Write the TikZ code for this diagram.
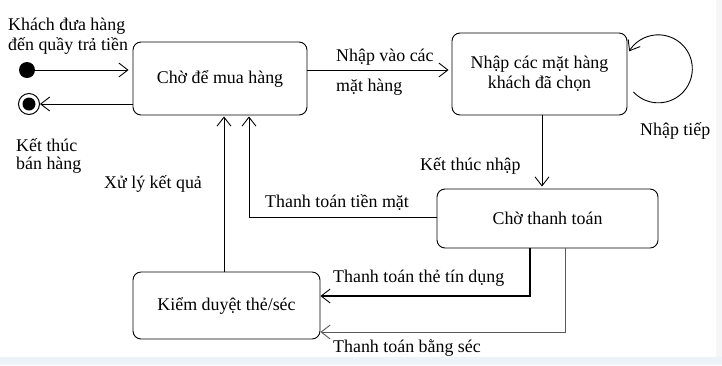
\documentclass[tikz,border=0pt]{standalone}
\usepackage{fontspec}
\setmainfont{Liberation Serif}
\usetikzlibrary{arrows.meta}
\definecolor{edgehaze}{RGB}{244,246,248}
\definecolor{bandhaze}{RGB}{238,243,249}
\definecolor{lightline}{RGB}{90,90,90}
\begin{document}
\begin{tikzpicture}[x=1pt,y=1pt,
  font=\fontsize{17.9}{20}\selectfont,
  state/.style={draw, rounded corners=8pt, line width=0.9pt, inner sep=0pt, align=center},
  flow/.style={line width=0.9pt, -{Straight Barb[length=9pt,width=14pt,line width=0.9pt]}},
  lbl/.style={inner sep=0pt, anchor=base west}]
% canvas
\useasboundingbox (0,0) rectangle (722,-365);
\fill[white] (0,0) rectangle (722,-365);
\fill[edgehaze] (716,0) rectangle (722,-365);
\fill[bandhaze] (0,-357) rectangle (722,-365);

% states
\node[state, minimum width=174pt, minimum height=73pt] (wait) at (220,-78.5) {Chờ để mua hàng};
\node[state, minimum width=175pt, minimum height=82pt] (enter) at (539.5,-74) {Nhập các mặt hàng\\khách đã chọn};
\node[state, minimum width=221pt, minimum height=59pt] (pay) at (547.5,-218.5) {Chờ thanh toán};
\node[state, minimum width=187pt, minimum height=67pt] (check) at (226.5,-305.5) {Kiểm duyệt thẻ/séc};

% initial and final pseudo-states
\node[circle, fill, minimum size=16pt, inner sep=0pt] (start) at (27,-70) {};
\node[circle, draw, line width=1pt, minimum size=21pt, inner sep=0pt] (stop) at (29,-104) {};
\node[circle, fill, minimum size=13pt, inner sep=0pt] (stopdot) at (stop) {};

% transitions
\draw[flow, shorten >=4pt] (start) -- (start -| wait.west);
\draw[flow] (wait.west |- stop) -- (stop);
\draw[flow, shorten >=3pt] ([yshift=8.5pt]wait.east) -- ([yshift=8.5pt]wait.east -| enter.west);
\draw[flow, shorten >=2pt] ([xshift=2.5pt]enter.south) -- ([xshift=2.5pt]enter.south |- pay.north);
\draw[flow] ([shift={(6pt,-18pt)}]enter.east) arc[start angle=-137, end angle=149, radius=34pt];
\draw[flow, shorten >=1pt] ([yshift=1.5pt]pay.west) -| ([xshift=29pt]wait.south);
\draw[flow, shorten >=1pt] ([xshift=-2.5pt]check.north) -- ([xshift=-2.5pt]check.north |- wait.south);
\draw[line width=2.4pt, -{Straight Barb[length=9pt,width=14pt,line width=0.9pt]}]
  ([xshift=-17.5pt]pay.south) |- ([yshift=9.5pt]check.east);
\draw[flow, draw=lightline] ([xshift=17.5pt]pay.south) |- ([yshift=-26.5pt]check.east);

% transition and state labels
\node[lbl] (in1) at (8,-30) {Khách đưa hàng};
\node[lbl] (in2) at (8,-50) {đến quầy trả tiền};
\node[lbl] (out1) at (16,-151) {Kết thúc};
\node[lbl] (out2) at (16,-169) {bán hàng};
\node[lbl] (res) at (104,-188) {Xử lý kết quả};
\node[lbl] (add1) at (336,-61) {Nhập vào các};
\node[lbl] (add2) at (336,-91) {mặt hàng};
\node[lbl] (more) at (640,-135) {Nhập tiếp};
\node[lbl] (done) at (420,-170) {Kết thúc nhập};
\node[lbl] (cash) at (265,-207) {Thanh toán tiền mặt};
\node[lbl] (card) at (333,-282) {Thanh toán thẻ tín dụng};
\node[lbl] (cheque) at (333,-352) {Thanh toán bằng séc};
\end{tikzpicture}
\end{document}
